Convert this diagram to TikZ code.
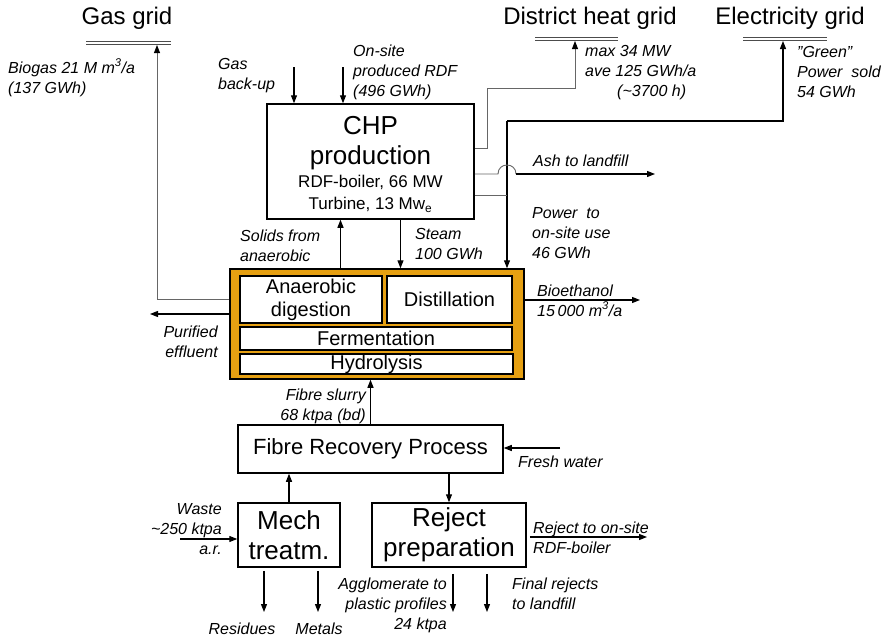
\documentclass[tikz,border=0pt]{standalone}
\usepackage{fontspec}
\setmainfont{Liberation Sans}
\usetikzlibrary{arrows.meta,positioning}
\definecolor{amber}{RGB}{230,160,18}
\tikzstyle{arrow} = [line width=1.2pt,-{Triangle[length=8pt,width=6pt]}]
\tikzstyle{feed} = [line width=0.9pt,draw=black!60,-{Triangle[length=8pt,width=6pt,color=black]}]
\tikzstyle{stub} = [line width=0.9pt,draw=black!60]
\tikzstyle{unit} = [draw,line width=1.5pt,fill=white,inner sep=0pt,align=center]
\tikzstyle{note} = [inner sep=0pt,font=\fontsize{16}{20}\selectfont\itshape]
\tikzstyle{grid} = [inner sep=0pt,font=\fontsize{24}{28}\selectfont]
\tikzstyle{bar} = [draw=black!70,line width=1pt,double=white,double distance=1.5pt]

\begin{document}
\begin{tikzpicture}[x=1pt,y=-1pt]
\useasboundingbox (0,0) rectangle (887,638);
% grids at the top
\node[grid] (gasgrid) at (127,18) {Gas grid};
\node[grid] (heatgrid) at (590,18) {District heat grid};
\node[grid] (elgrid) at (790,18) {Electricity grid};
\draw[bar] (86,43) -- (171,43);
\draw[bar] (535,39) -- (618,39);
\draw[bar] (743,39) -- (827,39);
\coordinate (gbar) at (157,45);
\coordinate (hbar) at (575,41);
\coordinate (ebar) at (783,41);

% process units
\node[unit,minimum width=207pt,minimum height=115pt] (chp) at (370.5,161.5) {};
\node[font=\fontsize{26}{30}\selectfont,align=center,inner sep=0pt] (chptitle) at (370.5,143) {CHP\\production};
\node[font=\fontsize{17}{22}\selectfont,align=center,inner sep=0pt] (chpdata) at (370.5,194) {RDF-boiler, 66 MW\\Turbine, 13 Mw\textsubscript{e}};
\node[draw,line width=1.5pt,fill=amber,minimum width=294pt,minimum height=110pt] (bio) at (377,324) {};
\node[unit,minimum width=142pt,minimum height=47pt,font=\fontsize{20}{23}\selectfont] (ad) at (311,299.5) {Anaerobic\\digestion};
\node[unit,minimum width=125pt,minimum height=47pt,font=\fontsize{20}{23}\selectfont] (dist) at (449.5,299.5) {Distillation};
\node[unit,minimum width=272pt,minimum height=23pt,font=\fontsize{20}{23}\selectfont] (ferm) at (376,338.5) {Fermentation};
\node[unit,minimum width=273pt,minimum height=20pt,font=\fontsize{20}{23}\selectfont] (hyd) at (376.5,364) {Hydrolysis};
\node[unit,minimum width=265pt,minimum height=48pt,font=\fontsize{22}{26}\selectfont] (frp) at (370.5,449) {Fibre Recovery Process};
\node[unit,minimum width=102pt,minimum height=64pt,font=\fontsize{26}{30}\selectfont] (mech) at (289,535) {Mech\\treatm.};
\node[unit,minimum width=154pt,minimum height=64pt,font=\fontsize{26}{30}\selectfont] (rej) at (449,535) {Reject\\preparation};

% flows around CHP
\coordinate (gbk) at (294,67);
\coordinate (rdf) at (343,67);
\draw[arrow] (gbk) -- (gbk |- chp.north);
\draw[arrow] (rdf) -- (rdf |- chp.north);
\draw[feed] (bio.west |- ad.center) -| (gbar);
\coordinate (hj) at (487,148);
\coordinate (hk) at (575,88);
\draw[feed] (chp.east |- hj) -- (hj) |- (hk) -- (hbar);
\coordinate (pj) at (507,121);
\coordinate (pk) at (507,195);
\draw[arrow] (pj) -| (ebar);
\draw[arrow] (pj) -- (pj |- bio.north);
\draw[stub] (chp.east |- pk) -- (pk);
\coordinate (ash) at (655,174);
\coordinate (hopl) at (498,174);
\coordinate (hopr) at (516,174);
\draw[stub] (chp.east |- ash) -- (hopl) .. controls +(0,-12) and +(0,-12) .. (hopr);
\draw[arrow] (hopr) -- (ash);
\draw[arrow] ([xshift=-30pt]chp.south |- bio.north) -- ([xshift=-30pt]chp.south);
\draw[arrow] ([xshift=30pt]chp.south) -- ([xshift=30pt]chp.south |- bio.north);

% flows out of the bio plant
\coordinate (effl) at (150,314);
\coordinate (eth) at (640,300);
\draw[arrow] (bio.west |- effl) -- (effl);
\draw[arrow] (bio.east |- eth) -- (eth);

% pre-treatment
\draw[arrow] (frp.north) -- (frp.north |- bio.south);
\draw[arrow] (mech.north) -- (mech.north |- frp.south);
\draw[arrow] (rej.north |- frp.south) -- (rej.north);
\coordinate (fw) at (560,448);
\coordinate (ws) at (180,539);
\coordinate (rto) at (647,537);
\draw[arrow] (fw) -- (fw -| frp.east);
\draw[arrow] (ws) -- (ws -| mech.west);
\draw[arrow] ([xshift=3pt]rej.east |- rto) -- (rto);
\coordinate (resid) at (264,612);
\coordinate (metal) at (318,612);
\coordinate (aggl) at (453,612);
\coordinate (final) at (487,612);
\draw[arrow] ([yshift=-3pt]mech.south -| resid) -- (resid);
\draw[arrow] ([yshift=-3pt]mech.south -| metal) -- (metal);
\draw[arrow] ([yshift=-6pt]rej.south -| aggl) -- (aggl);
\draw[arrow] ([yshift=-6pt]rej.south -| final) -- (final);

% labels (base = last line)
\node[note,anchor=base west,align=left] (biogas) at (8,93) {Biogas 21 M m\textsuperscript{3}/a\\(137 GWh)};
\node[note,anchor=base west,align=left] (backup) at (218,89) {Gas\\back-up};
\node[note,anchor=base west,align=left] (rdftxt) at (353,96) {On-site\\produced RDF\\(496 GWh)};
\node[note,anchor=base west,align=left] (heattxt) at (585,96) {max 34 MW\\ave 125 GWh/a\\\hspace*{32pt}(\textasciitilde3700 h)};
\node[note,anchor=base west,align=left] (eltxt) at (797,97) {"Green"\\Power\ \ sold\\54 GWh};
\node[note,anchor=base west] (ashtxt) at (533,166) {Ash to landfill};
\node[note,anchor=base west,align=left] (powtxt) at (532,258) {Power\ \ to\\on-site use\\46 GWh};
\node[note,anchor=base west,align=left] (solidtxt) at (240,261) {Solids from\\anaerobic};
\node[note,anchor=base west,align=left] (steamtxt) at (415,259) {Steam\\100 GWh};
\node[note,anchor=base west,align=left] (ethtxt) at (537,316) {Bioethanol\\15\,000 m\textsuperscript{3}/a};
\node[note,anchor=base east,align=right] (effltxt) at (218,357) {Purified\\effluent};
\node[note,anchor=base east,align=right] (slurrytxt) at (366,420) {Fibre slurry\\68 ktpa (bd)};
\node[note,anchor=base west] (fwtxt) at (518,467) {Fresh water};
\node[note,anchor=base east,align=right] (wastetxt) at (222,554) {Waste\\\textasciitilde250 ktpa\\a.r.};
\node[note,anchor=base west,align=left] (rtotxt) at (533,553) {Reject to on-site\\RDF-boiler};
\node[note,anchor=base east,align=right] (aggltxt) at (447,629) {Agglomerate to\\plastic profiles\\24 ktpa};
\node[note,anchor=base west,align=left] (finaltxt) at (512,609) {Final rejects\\to landfill};
\node[note,anchor=base] (restxt) at (242,634) {Residues};
\node[note,anchor=base] (mettxt) at (319,634) {Metals};
\end{tikzpicture}
\end{document}
